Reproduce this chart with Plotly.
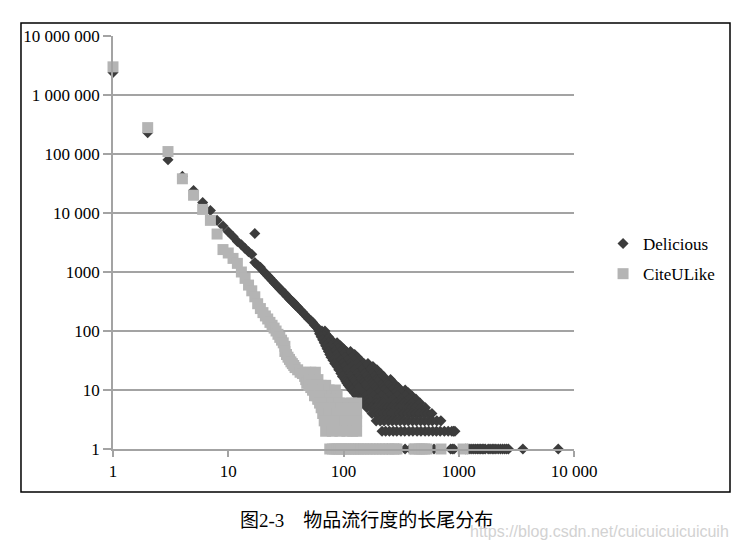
import plotly.graph_objects as go

# ---------------- data ----------------
# Delicious: popularity (x) vs number of items (y)
deli_head_x = [1, 2, 3, 4, 5, 6, 7, 8, 9, 10, 11, 12, 13, 14, 15, 16, 17, 17, 18, 19,
               20, 21, 22, 23, 24, 25, 26, 27, 28, 29, 30, 31, 32, 33, 34, 35, 36, 37,
               38, 39, 40, 42, 44, 46, 48, 50, 52, 54, 56, 58, 60]
deli_head_y = [2400000, 230000, 80000, 42000, 24000, 15000, 11000, 7500, 6000, 4800,
               4000, 3300, 2900, 2500, 2200, 2000, 1450, 4500, 1300, 1200,
               1050, 950, 860, 790, 720, 660, 610, 560, 520, 490, 450, 430, 395, 375,
               350, 330, 315, 300, 280, 265, 255, 230, 210, 190, 175, 160, 150, 140,
               125, 118, 110]

deli_cloud_x = [61, 65, 69,
                62, 66, 70,
                64, 69, 74,
                66, 72, 78,
                68, 75, 82, 88,
                70, 78, 87, 94,
                72, 81, 91, 100,
                74, 84, 95, 106, 115,
                76, 87, 99, 112, 125,
                78, 90, 103, 118, 132,
                81, 94, 108, 124, 140,
                84, 98, 113, 130, 150, 163,
                88, 102, 118, 138, 160, 180,
                91, 106, 124, 145, 170, 195,
                95, 112, 130, 152, 178, 210,
                98, 115, 135, 158, 185, 222,
                103, 120, 140, 165, 192, 230, 256,
                105, 123, 145, 170, 198, 262,
                107, 126, 148, 175, 205, 240,
                110, 130, 153, 180, 212, 245, 285,
                114, 135, 160, 188, 220, 258, 300,
                118, 140, 165, 192, 225, 265, 310, 343,
                124, 147, 172, 200, 236, 280, 320, 365,
                130, 155, 182, 213, 250, 295, 345, 391,
                140, 165, 195, 228, 268, 315, 370, 425,
                148, 162, 175, 190, 205, 222, 240, 262, 285, 310, 335, 365, 395, 461,
                160, 175, 190, 205, 222, 240, 260, 282, 305, 332, 360, 390, 420, 465, 514,
                177, 190, 205, 222, 240, 260, 280, 305, 330, 360, 390, 425, 460, 500, 540, 585,
                192, 208, 225, 245, 265, 287, 310, 337, 365, 397, 430, 467, 505, 547, 590, 645, 700,
                216, 232, 250, 270, 290, 315, 340, 370, 400, 435, 470, 510, 550, 595, 640, 690,
                750, 810, 870, 900, 927]
deli_cloud_y = [100, 100, 100,
                90, 90, 90,
                80, 80, 80,
                71, 71, 71,
                63, 63, 63, 63,
                56, 56, 56, 56,
                50, 50, 50, 50,
                45, 45, 45, 45, 45,
                40, 40, 40, 40, 40,
                36, 36, 36, 36, 36,
                32, 32, 32, 32, 32,
                28, 28, 28, 28, 28, 28,
                25, 25, 25, 25, 25, 25,
                22, 22, 22, 22, 22, 22,
                19, 19, 19, 19, 19, 19,
                17, 17, 17, 17, 17, 17,
                15, 15, 15, 15, 15, 15, 15,
                14, 14, 14, 14, 14, 14,
                13, 13, 13, 13, 13, 13,
                12, 12, 12, 12, 12, 12, 12,
                11, 11, 11, 11, 11, 11, 11,
                10, 10, 10, 10, 10, 10, 10, 10,
                9, 9, 9, 9, 9, 9, 9, 9,
                8, 8, 8, 8, 8, 8, 8, 8,
                7, 7, 7, 7, 7, 7, 7, 7,
                6, 6, 6, 6, 6, 6, 6, 6, 6, 6, 6, 6, 6, 6,
                5, 5, 5, 5, 5, 5, 5, 5, 5, 5, 5, 5, 5, 5, 5,
                4, 4, 4, 4, 4, 4, 4, 4, 4, 4, 4, 4, 4, 4, 4, 4,
                3, 3, 3, 3, 3, 3, 3, 3, 3, 3, 3, 3, 3, 3, 3, 3, 3,
                2, 2, 2, 2, 2, 2, 2, 2, 2, 2, 2, 2, 2, 2, 2, 2,
                2, 2, 2, 2, 2]

deli_ones_x = [240, 300, 342, 380, 610, 850, 880, 910, 1150, 1200, 1250, 1300, 1350, 1400,
               1450, 1500, 1550, 1600, 1650, 1700, 1800, 1870, 1950, 2020, 2100, 2200,
               2300, 2400, 2500, 2600, 2700, 3600, 7300]
deli_ones_y = [1] * len(deli_ones_x)

# CiteULike
cite_head_x = list(range(1, 31))
cite_head_y = [3000000, 280000, 110000, 38000, 20000, 11500, 7500, 4400, 2400, 2100,
               1700, 1400, 1000, 780, 600, 480, 380, 290, 240, 205,
               180, 160, 140, 125, 112, 100, 88, 78, 70, 63]

cite_cloud_x = [31, 31, 32, 33, 34, 35, 36, 37, 38, 40, 42, 44, 46, 47, 48, 50, 52, 54, 56, 58, 60,
                47, 52, 57,
                50, 55, 60,
                52, 58, 64, 70,
                54, 60, 66, 75, 85,
                56, 62, 70, 80, 88,
                60, 68, 76, 86,
                62, 70, 80, 92, 105, 118, 130,
                64, 72, 84, 96, 110, 124,
                66, 75, 88, 100, 114, 130,
                68, 78, 90, 104, 118, 130,
                70, 80, 93, 107, 120, 130]
cite_cloud_y = [55, 45, 40, 36, 33, 30, 28, 26, 24, 22, 20, 19, 17, 15, 13, 12, 11, 10, 9, 8, 7,
                20, 20, 20,
                15, 15, 15,
                12, 12, 12, 12,
                10, 10, 10, 10, 10,
                8, 8, 8, 8, 8,
                7, 7, 7, 7,
                6, 6, 6, 6, 6, 6, 6,
                5, 5, 5, 5, 5, 5,
                4, 4, 4, 4, 4, 4,
                3, 3, 3, 3, 3, 3,
                2, 2, 2, 2, 2, 2]

cite_ones_x = [76, 80, 84, 88, 92, 96, 100, 105, 110, 116, 122, 128, 135, 142, 150, 160,
               170, 180, 192, 205, 218, 232, 248, 265, 280, 291, 409, 430, 455, 480, 505,
               530, 701, 1090]
cite_ones_y = [1] * len(cite_ones_x)

x_tick_vals = [1, 10, 100, 1000, 10000]
x_tick_text = ["1", "10", "100", "1000", "10 000"]
y_tick_vals = [1, 10, 100, 1000, 10000, 100000, 1000000, 10000000]
y_tick_text = ["1", "10", "100", "1000", "10 000", "100 000", "1 000 000", "10 000 000"]

series_names = ["Delicious", "CiteULike"]
caption = "图2-3\u3000物品流行度的长尾分布"
watermark = "https://blog.csdn.net/cuicuicuicuicuih"

# ---------------- figure ----------------
SERIF = "Liberation Serif, Times New Roman, serif"
GRID = "#a3a3a3"

fig = go.Figure()
fig.add_trace(go.Scatter(
    x=deli_head_x + deli_cloud_x + deli_ones_x,
    y=deli_head_y + deli_cloud_y + deli_ones_y,
    mode="markers", name=series_names[0], legendgroup="a", cliponaxis=False,
    marker=dict(symbol="diamond", size=8.5, color="#3c3c3c", line=dict(width=0)),
))
fig.add_trace(go.Scatter(
    x=cite_head_x + cite_cloud_x + cite_ones_x,
    y=cite_head_y + cite_cloud_y + cite_ones_y,
    mode="markers", name=series_names[1], legendgroup="b", cliponaxis=False,
    marker=dict(symbol="square", size=11, color="#b4b4b4", line=dict(width=0)),
))

fig.update_layout(
    width=750, height=551,
    margin=dict(l=105, r=184, t=28, b=110),
    paper_bgcolor="white", plot_bgcolor="white",
    font=dict(family=SERIF, size=17, color="black"),
    showlegend=True,
    legend=dict(x=1.063, y=0.46, xanchor="left", yanchor="middle",
                font=dict(family=SERIF, size=17, color="black"),
                bgcolor="rgba(0,0,0,0)", tracegroupgap=5, traceorder="grouped"),
)
fig.update_xaxes(
    type="log", range=[0, 4],
    tickvals=x_tick_vals, ticktext=x_tick_text,
    showgrid=False, zeroline=False,
    showline=True, linecolor=GRID, linewidth=1.5,
    ticks="outside", ticklen=6, tickcolor=GRID, tickwidth=1.5,
    tickfont=dict(family=SERIF, size=17, color="black"),
)
fig.update_yaxes(
    type="log", range=[0, 7],
    tickvals=y_tick_vals, ticktext=y_tick_text,
    showgrid=True, gridcolor=GRID, gridwidth=1.5, zeroline=False,
    showline=True, linecolor=GRID, linewidth=1.5,
    ticks="outside", ticklen=8, tickcolor=GRID, tickwidth=1.5,
    tickfont=dict(family=SERIF, size=17, color="black"),
)

# outer frame around the chart
fig.add_shape(type="rect", xref="paper", yref="paper",
              x0=-0.1996, x1=1.3384, y0=-0.1041, y1=1.0315,
              line=dict(color="black", width=1.5), fillcolor="rgba(0,0,0,0)", layer="below")

fig.add_annotation(text=caption, xref="paper", yref="paper",
                   x=0.549, y=-0.172, xanchor="center", yanchor="middle", showarrow=False,
                   font=dict(family="Liberation Serif, Noto Sans CJK SC", size=19, color="black"))
fig.add_annotation(text=watermark, xref="paper", yref="paper",
                   x=(468 - 113) / 461, y=(449 - 531) / 413, xanchor="left", yanchor="middle",
                   showarrow=False,
                   font=dict(family="Liberation Sans, Arial, sans-serif", size=16, color="#d2d2d2"))

fig.write_html("out.html")
